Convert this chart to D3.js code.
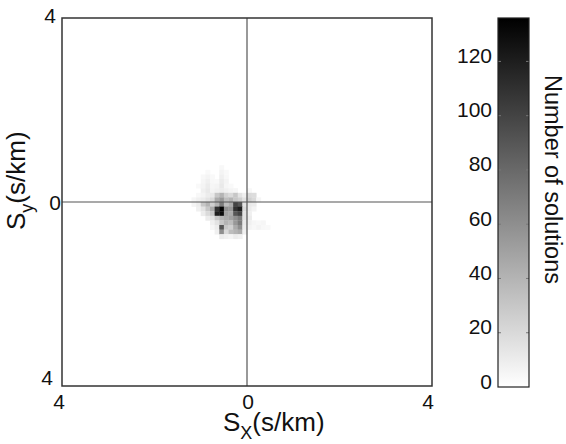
<!DOCTYPE html>
<html>
<head>
<meta charset="utf-8">
<script src="https://cdn.jsdelivr.net/npm/d3@7"></script>
<style>
  html, body { margin: 0; padding: 0; background: #fff; }
  svg text { font-family: "Liberation Sans", Arial, Helvetica, sans-serif; fill: #111; }
</style>
</head>
<body>
<svg id="chart" width="566" height="444"></svg>
<script>
// Slowness grid: lower x edge of first column, upper y edge of first row, bin width (s/km)
const binX0 = -1.3;
const binY0 = 0.8;
const binSize = 0.1;

// Number of solutions per slowness bin, rows from top (high Sy) to bottom
const counts = [
  [0,0,0,0,0,0,0,4,0,0,0,0,0,0,0,0,0,0,0],
  [0,0,0,0,3,0,0,6,3,0,0,0,0,0,0,0,0,0,0],
  [0,0,0,4,6,3,0,8,4,0,0,0,0,0,0,0,0,0,0],
  [0,0,0,5,8,4,3,10,6,0,0,0,0,0,0,0,0,0,0],
  [0,0,3,6,10,5,6,12,5,3,0,0,0,0,0,0,0,0,0],
  [0,0,0,8,12,6,8,10,8,6,5,0,0,4,0,0,0,0,0],
  [0,0,4,6,10,12,30,40,25,20,30,15,8,20,18,0,0,0,0],
  [0,5,8,10,15,20,45,55,35,40,30,25,15,25,20,5,0,0,0],
  [0,6,10,30,40,25,40,70,35,45,100,90,15,12,10,0,0,0,0],
  [0,0,8,15,30,45,110,135,60,55,110,120,20,10,6,0,0,0,0],
  [0,0,0,10,20,30,120,130,50,45,90,100,15,8,0,0,0,0,0],
  [0,0,0,0,10,15,30,40,45,50,60,70,15,10,0,0,0,0,0],
  [0,0,0,0,0,8,15,30,40,35,55,70,12,8,5,4,5,0,0],
  [0,0,0,0,0,5,10,90,30,25,45,60,10,6,4,6,4,3,0],
  [0,0,0,0,0,0,8,60,20,35,40,45,8,0,0,0,0,0,0],
  [0,0,0,0,0,0,0,10,8,6,10,8,0,0,0,0,0,0,0]
];

const axisTicks = [-4, 0, 4];
const axisTickLabels = ["4", "0", "4"];
const colorTicks = [0, 20, 40, 60, 80, 100, 120];
const colorMax = 136;

const svg = d3.select("#chart");

const x = d3.scaleLinear().domain([-4, 4]).range([62, 432]);
const y = d3.scaleLinear().domain([-4, 4]).range([386, 18]);
const shade = d3.scaleLinear().domain([0, colorMax]).range(["#ffffff", "#000000"]).clamp(true);

// histogram cells
const cells = [];
counts.forEach((row, r) => row.forEach((v, c) => {
  if (v > 0) cells.push({ sx: binX0 + c * binSize, sy: binY0 - r * binSize, v });
}));

svg.append("g").selectAll("rect").data(cells).join("rect")
  .attr("x", d => x(d.sx))
  .attr("y", d => y(d.sy))
  .attr("width", x(binSize) - x(0) + 0.3)
  .attr("height", y(0) - y(binSize) + 0.3)
  .attr("fill", d => shade(d.v));

// zero-slowness cross
svg.append("line").attr("x1", x(0)).attr("x2", x(0)).attr("y1", y(4)).attr("y2", y(-4))
  .attr("stroke", "#555").attr("stroke-width", 1.2);
svg.append("line").attr("x1", x(-4)).attr("x2", x(4)).attr("y1", y(0)).attr("y2", y(0))
  .attr("stroke", "#555").attr("stroke-width", 1.2);

// plot frame
svg.append("rect").attr("x", x(-4)).attr("y", y(4))
  .attr("width", x(4) - x(-4)).attr("height", y(-4) - y(4))
  .attr("fill", "none").attr("stroke", "#333").attr("stroke-width", 1.5);

// axis tick labels
const yTickShift = { "-4": -9, "0": 0, "4": -3 };
svg.append("g").selectAll("text").data(axisTicks).join("text")
  .attr("x", d => d === 0 ? 61 : (d > 0 ? 56 : 53))
  .attr("y", d => y(d) + yTickShift[d])
  .attr("text-anchor", "end")
  .attr("dominant-baseline", "central")
  .attr("font-size", 21)
  .text((d, i) => axisTickLabels[i]);

svg.append("g").selectAll("text").data(axisTicks).join("text")
  .attr("x", d => x(d) + (d < 0 ? -3 : (d > 0 ? -4 : 1)))
  .attr("y", 409)
  .attr("text-anchor", "middle")
  .attr("font-size", 21)
  .text((d, i) => axisTickLabels[i]);

// axis titles
const xt = svg.append("text").attr("x", 223).attr("y", 431).attr("font-size", 26);
xt.append("tspan").text("S");
xt.append("tspan").attr("font-size", 18).attr("dy", 8).text("X");
xt.append("tspan").attr("dy", -8).text("(s/km)");

const yt = svg.append("text").attr("transform", "translate(25,230) rotate(-90)").attr("font-size", 26);
yt.append("tspan").text("S");
yt.append("tspan").attr("font-size", 18).attr("dy", 8).text("y");
yt.append("tspan").attr("dy", -8).text("(s/km)");

// colour bar
const cbX = 498, cbW = 31;
const cy = d3.scaleLinear().domain([0, colorMax]).range([387, 18]);

const defs = svg.append("defs");
const grad = defs.append("linearGradient").attr("id", "cbGrad")
  .attr("x1", 0).attr("y1", 1).attr("x2", 0).attr("y2", 0);
grad.append("stop").attr("offset", 0).attr("stop-color", shade(0));
grad.append("stop").attr("offset", 1).attr("stop-color", shade(colorMax));

svg.append("rect").attr("x", cbX).attr("y", cy(colorMax))
  .attr("width", cbW).attr("height", cy(0) - cy(colorMax))
  .attr("fill", "url(#cbGrad)");

const cbTickG = svg.append("g");
colorTicks.filter(t => t > 0).forEach(t => {
  cbTickG.append("line").attr("x1", cbX).attr("x2", cbX + 3).attr("y1", cy(t)).attr("y2", cy(t))
    .attr("stroke", "#777").attr("stroke-width", 1);
  cbTickG.append("line").attr("x1", cbX + cbW - 3).attr("x2", cbX + cbW).attr("y1", cy(t)).attr("y2", cy(t))
    .attr("stroke", "#777").attr("stroke-width", 1);
});

svg.append("rect").attr("x", cbX).attr("y", cy(colorMax))
  .attr("width", cbW).attr("height", cy(0) - cy(colorMax))
  .attr("fill", "none").attr("stroke", "#222").attr("stroke-width", 1.2);

svg.append("g").selectAll("text").data(colorTicks).join("text")
  .attr("x", 492)
  .attr("y", d => cy(d) - 6)
  .attr("text-anchor", "end")
  .attr("dominant-baseline", "central")
  .attr("font-size", 21)
  .text(d => d);

svg.append("text")
  .attr("transform", "translate(545,75) rotate(90)")
  .attr("font-size", 23.5)
  .text("Number of solutions");
</script>
</body>
</html>
